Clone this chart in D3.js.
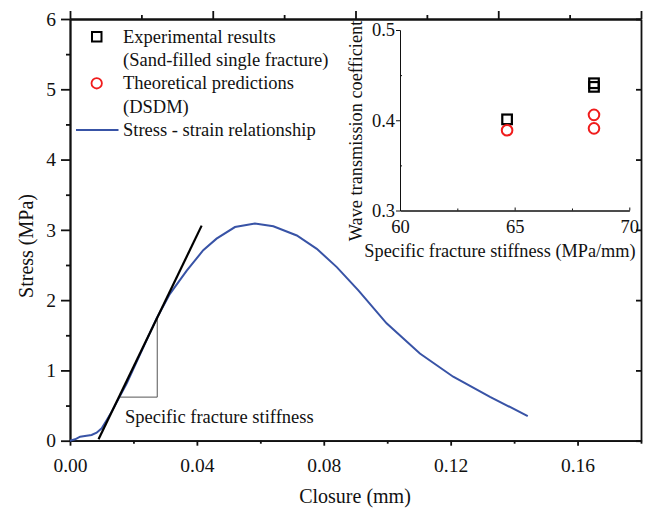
<!DOCTYPE html>
<html>
<head>
<meta charset="utf-8">
<script src="https://cdn.jsdelivr.net/npm/d3@7"></script>
<style>
  body { margin: 0; background: #fff; }
  svg text { font-family: "Liberation Serif", "Times New Roman", serif; fill: #111; }
  .ax path, .ax line { stroke: #111; }
</style>
</head>
<body>
<svg id="chart" width="653" height="512"></svg>
<script>
// stress - closure curve (main plot)
closure = [0, 0.0016, 0.0032, 0.0047, 0.0068, 0.0084, 0.0100, 0.0116, 0.0131, 0.0179, 0.0273, 0.0315, 0.0368, 0.0420, 0.0462, 0.0520, 0.0583, 0.0641, 0.0715, 0.0778, 0.0841, 0.0909, 0.0998, 0.1103, 0.1208, 0.1324, 0.1443]
stress  = [0, 0.02, 0.057, 0.067, 0.081, 0.114, 0.176, 0.294, 0.41, 0.815, 1.74, 2.09, 2.42, 2.71, 2.875, 3.04, 3.09, 3.05, 2.92, 2.73, 2.47, 2.14, 1.67, 1.24, 0.91, 0.625, 0.35]

// tangent line + stiffness triangle
tangentX = [0.0090, 0.0415]
tangentY = [0.02, 3.06]
triX = [0.0158, 0.0275, 0.0275]
triY = [0.62, 0.62, 1.74]

// inset: wave transmission coefficient
expStiff = [64.67, 68.46, 68.46]
expCoef  = [0.401, 0.441, 0.437]
thStiff  = [64.67, 68.46, 68.46]
thCoef   = [0.389, 0.406, 0.391]

xMajor = [0, 0.04, 0.08, 0.12, 0.16]
xMinor = [0.02, 0.06, 0.10, 0.14, 0.18]
yMajor = [0, 1, 2, 3, 4, 5, 6]
yMinor = [0.5, 1.5, 2.5, 3.5, 4.5, 5.5]
insetXTicks = [60, 65, 70]
insetXMinor = [62.5, 67.5]
insetYTicks = [0.3, 0.4, 0.5]
insetYMinor = [0.35, 0.45]

legendLabels = ['Experimental results', '(Sand-filled single fracture)', 'Theoretical predictions', '(DSDM)', 'Stress - strain relationship']

blue = '#3853a6'
red = '#f01c1c'

svg = d3.select('#chart')

x = d3.scaleLinear().domain([0, 0.18]).range([70, 641])
y = d3.scaleLinear().domain([0, 6]).range([440.7, 19])
xTop = d3.scaleLinear().domain([0, 8]).range([70, 641])

ix = d3.scaleLinear().domain([60, 70]).range([400, 629.3])
iy = d3.scaleLinear().domain([0.3, 0.5]).range([210.5, 30])

styleAxis = function(g, w, fs){
    g.attr('class', 'ax')
    g.select('.domain').attr('stroke-width', w)
    g.selectAll('.tick line').attr('stroke-width', w)
    g.selectAll('text').attr('font-size', fs).attr('fill', '#111')
}

// main axes
g = svg.append('g').attr('transform', 'translate(0,' + y(0) + ')')
    .call(d3.axisBottom(x).tickValues(xMinor).tickSize(3).tickFormat('').tickSizeOuter(0))
styleAxis(g, 1.8, 19)
g = svg.append('g').attr('transform', 'translate(0,' + y(0) + ')')
    .call(d3.axisBottom(x).tickValues(xMajor).tickSize(5).tickPadding(12).tickFormat(d3.format('.2f')).tickSizeOuter(0))
styleAxis(g, 1.8, 19.5)

g = svg.append('g').attr('transform', 'translate(' + x(0) + ',0)')
    .call(d3.axisLeft(y).tickValues(yMinor).tickSize(4).tickFormat('').tickSizeOuter(0))
styleAxis(g, 1.8, 19)
g = svg.append('g').attr('transform', 'translate(' + x(0) + ',0)')
    .call(d3.axisLeft(y).tickValues(yMajor).tickSize(9).tickPadding(5).tickFormat(d3.format('d')).tickSizeOuter(0))
styleAxis(g, 1.8, 19.5)

g = svg.append('g').attr('transform', 'translate(0,' + y(6) + ')')
    .call(d3.axisTop(xTop).tickValues([1, 3, 5, 7]).tickSize(4).tickFormat('').tickSizeOuter(0))
styleAxis(g, 1.8, 19)
g = svg.append('g').attr('transform', 'translate(0,' + y(6) + ')')
    .call(d3.axisTop(xTop).tickValues([0, 2, 4, 6, 8]).tickSize(8).tickFormat('').tickSizeOuter(0))
styleAxis(g, 1.8, 19)

g = svg.append('g').attr('transform', 'translate(' + x(0.18) + ',0)')
    .call(d3.axisRight(y).tickValues(yMajor).tickSize(-5).tickFormat('').tickSizeOuter(0))
styleAxis(g, 1.8, 19)

// axis titles
svg.append('text').attr('x', 355).attr('y', 503).attr('text-anchor', 'middle')
    .attr('font-size', 20).text('Closure (mm)')
svg.append('text').attr('transform', 'translate(33,246) rotate(-90)').attr('text-anchor', 'middle')
    .attr('font-size', 20).text('Stress (MPa)')

// curve
line = d3.line().x(function(d){ return x(d[0]) }).y(function(d){ return y(d[1]) })
curve = closure.map(function(c, i){ return [c, stress[i]] })
svg.append('path').datum(curve).attr('d', line)
    .attr('fill', 'none').attr('stroke', blue).attr('stroke-width', 2)

// stiffness triangle
tri = triX.map(function(t, i){ return [t, triY[i]] })
svg.append('path').datum(tri).attr('d', line)
    .attr('fill', 'none').attr('stroke', '#555').attr('stroke-width', 1)

// tangent
tan = tangentX.map(function(t, i){ return [t, tangentY[i]] })
svg.append('path').datum(tan).attr('d', line)
    .attr('fill', 'none').attr('stroke', '#000').attr('stroke-width', 2.2)

svg.append('text').attr('x', 125).attr('y', 422.5).attr('font-size', 18.5).text('Specific fracture stiffness')

// legend
lg = svg.append('g')
lg.append('rect').attr('x', 92).attr('y', 32).attr('width', 9.5).attr('height', 9.5)
    .attr('fill', 'none').attr('stroke', '#000').attr('stroke-width', 2)
lg.append('circle').attr('cx', 96.7).attr('cy', 83.3).attr('r', 5.2)
    .attr('fill', 'none').attr('stroke', red).attr('stroke-width', 1.8)
lg.append('line').attr('x1', 76).attr('x2', 118.5).attr('y1', 130).attr('y2', 130)
    .attr('stroke', blue).attr('stroke-width', 2)
legendBase = [42.7, 66, 89.3, 112.7, 136]
legendLabels.forEach(function(t, i){
    lg.append('text').attr('x', 123).attr('y', legendBase[i]).attr('font-size', 18.5).text(t)
})

// inset axes
g = svg.append('g').attr('transform', 'translate(0,' + iy(0.3) + ')')
    .call(d3.axisBottom(ix).tickValues(insetXMinor).tickSize(-2).tickFormat('').tickSizeOuter(0))
styleAxis(g, 1, 18)
g = svg.append('g').attr('transform', 'translate(0,' + iy(0.3) + ')')
    .call(d3.axisBottom(ix).tickValues(insetXTicks).tickSize(-3).tickPadding(9).tickFormat(d3.format('d')).tickSizeOuter(0))
styleAxis(g, 1, 18.5)
g = svg.append('g').attr('transform', 'translate(' + ix(60) + ',0)')
    .call(d3.axisLeft(iy).tickValues(insetYMinor).tickSize(-2).tickFormat('').tickSizeOuter(0))
styleAxis(g, 1, 18)
g = svg.append('g').attr('transform', 'translate(' + ix(60) + ',0)')
    .call(d3.axisLeft(iy).tickValues(insetYTicks).tickSize(4).tickPadding(1).tickFormat(d3.format('.1f')).tickSizeOuter(0))
styleAxis(g, 1, 18.5)

svg.append('text').attr('x', 500).attr('y', 256.5).attr('text-anchor', 'middle')
    .attr('font-size', 18.3).text('Specific fracture stiffness (MPa/mm)')
svg.append('text').attr('transform', 'translate(362,131) rotate(-90)').attr('text-anchor', 'middle')
    .attr('font-size', 18.3).text('Wave transmission coefficient')

// inset points
svg.selectAll('.exp').data(expStiff).enter().append('rect').attr('class', 'exp')
    .attr('x', function(d){ return ix(d) - 4.8 })
    .attr('y', function(d, i){ return iy(expCoef[i]) - 4.8 })
    .attr('width', 9.6).attr('height', 9.6)
    .attr('fill', 'none').attr('stroke', '#000').attr('stroke-width', 2.2)
svg.selectAll('.th').data(thStiff).enter().append('circle').attr('class', 'th')
    .attr('cx', function(d){ return ix(d) })
    .attr('cy', function(d, i){ return iy(thCoef[i]) })
    .attr('r', 5.3)
    .attr('fill', 'none').attr('stroke', red).attr('stroke-width', 2)
</script>
</body>
</html>
